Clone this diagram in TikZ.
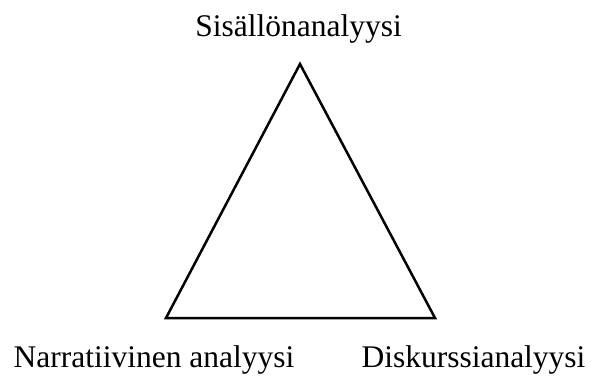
\documentclass[tikz,border=0pt]{standalone}
\usepackage{fontspec}
\setmainfont{Liberation Serif}
\begin{document}
\begin{tikzpicture}[x=1pt,y=1pt,
  lbl/.style={inner sep=0pt,anchor=base,font=\fontsize{31.5}{36}\selectfont},
  edge/.style={line width=2.5pt,line join=miter}]
\useasboundingbox (0,0) rectangle (592,376);
\coordinate (top) at (300,312);
\coordinate (bl) at (166,58);
\coordinate (br) at (435,58);
\draw[edge] (top) -- (bl) -- (br) -- cycle;
\node[lbl] (s) at (298.5,340) {Sisällönanalyysi};
\node[lbl] (n) at (154,9) {Narratiivinen analyysi};
\node[lbl] (d) at (473.5,9) {Diskurssianalyysi};
\end{tikzpicture}
\end{document}
